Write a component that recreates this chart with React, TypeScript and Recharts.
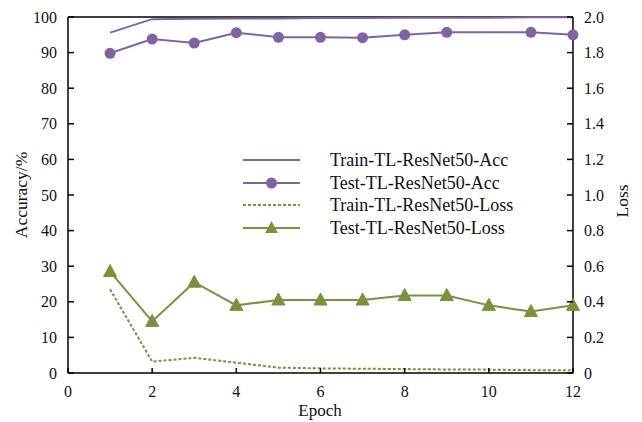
import React from 'react';
import { LineChart, Line, XAxis, YAxis, Legend, ReferenceLine, Label } from 'recharts';

const epochs = [1, 2, 3, 4, 5, 6, 7, 8, 9, 10, 11, 12];
const trainAcc = [95.6, 99.4, 99.5, 99.6, 99.6, 99.7, 99.7, 99.8, 99.8, 99.8, 99.9, 99.9];
const testAcc: (number | null)[] = [89.8, 93.8, 92.7, 95.6, 94.3, 94.3, 94.2, 95.0, 95.7, null, 95.7, 95.0];
const trainLoss = [0.47, 0.064, 0.085, 0.058, 0.03, 0.026, 0.024, 0.022, 0.02, 0.019, 0.016, 0.015];
const testLoss = [0.57, 0.29, 0.51, 0.38, 0.41, 0.41, 0.41, 0.435, 0.435, 0.38, 0.345, 0.38];

const xTicks = [0, 2, 4, 6, 8, 10, 12];
const accTicks = [0, 10, 20, 30, 40, 50, 60, 70, 80, 90, 100];
const lossTicks = [0, 0.2, 0.4, 0.6, 0.8, 1.0, 1.2, 1.4, 1.6, 1.8, 2.0];

const seriesNames = [
  'Train-TL-ResNet50-Acc',
  'Test-TL-ResNet50-Acc',
  'Train-TL-ResNet50-Loss',
  'Test-TL-ResNet50-Loss',
];

const PURPLE = '#8064A2';
const GREEN = '#77933C';
const FONT = '"Liberation Serif", "Times New Roman", serif';

const data = epochs.map((e, i) => ({
  epoch: e,
  trainAcc: trainAcc[i],
  testAcc: testAcc[i],
  trainLoss: trainLoss[i],
  testLoss: testLoss[i],
}));

const fmtLoss = (v: number) => (v === 0 ? '0' : v.toFixed(1));

const LeftTick = (props: any) => {
  const { x, y, payload } = props;
  return (
    <g>
      <line x1={x} x2={x + 6} y1={y} y2={y} stroke="#000" strokeWidth={1.5} />
      <text x={x - 11} y={y} dy={5.5} textAnchor="end" fontSize={16} fontFamily={FONT} fill="#111">
        {payload.value}
      </text>
    </g>
  );
};

const RightTick = (props: any) => {
  const { x, y, payload } = props;
  return (
    <g>
      <line x1={x} x2={x - 6} y1={y} y2={y} stroke="#000" strokeWidth={1.5} />
      <text x={x + 11} y={y} dy={5.5} textAnchor="start" fontSize={16} fontFamily={FONT} fill="#111">
        {fmtLoss(payload.value)}
      </text>
    </g>
  );
};

const BottomTick = (props: any) => {
  const { x, y, payload } = props;
  return (
    <g>
      <line x1={x} x2={x} y1={y} y2={y - 5} stroke="#000" strokeWidth={1.5} />
      <text x={x} y={y} dy={23.5} textAnchor="middle" fontSize={16} fontFamily={FONT} fill="#111">
        {payload.value}
      </text>
    </g>
  );
};

const Triangle = (props: any) => {
  const { cx, cy, index } = props;
  if (cx == null || cy == null) return <g key={`t-${index}`} />;
  return (
    <polygon
      key={`t-${index}`}
      points={`${cx},${cy - 7} ${cx - 6.5},${cy + 5} ${cx + 6.5},${cy + 5}`}
      fill={GREEN}
      stroke={GREEN}
    />
  );
};

const legendStyles = [
  { color: PURPLE, dash: undefined, marker: 'none' },
  { color: PURPLE, dash: undefined, marker: 'circle' },
  { color: GREEN, dash: '3 2', marker: 'none' },
  { color: GREEN, dash: undefined, marker: 'triangle' },
];

const renderLegend = () => (
  <div style={{ fontFamily: FONT, fontSize: 18, color: '#111' }}>
    {seriesNames.map((name, i) => {
      const s = legendStyles[i];
      return (
        <div key={name} style={{ display: 'flex', alignItems: 'center', height: 22.5 }}>
          <svg width={57} height={22} style={{ display: 'block' }}>
            <line x1={0} x2={57} y1={11} y2={11} stroke={s.color} strokeWidth={2} strokeDasharray={s.dash} />
            {s.marker === 'circle' && <circle cx={28.5} cy={11} r={5.5} fill={s.color} />}
            {s.marker === 'triangle' && (
              <polygon points={`28.5,4 22,16 35,16`} fill={s.color} />
            )}
          </svg>
          <span style={{ marginLeft: 30, whiteSpace: 'nowrap', lineHeight: '22px' }}>{name}</span>
        </div>
      );
    })}
  </div>
);

export default function App() {
  return (
    <div style={{ marginLeft: -8, marginTop: -8, width: 642, height: 422, background: '#fff' }}>
      <LineChart
        width={642}
        height={422}
        data={data}
        margin={{ top: 17, right: 0, bottom: 0, left: 0 }}
      >
        <XAxis
          dataKey="epoch"
          type="number"
          domain={[0, 12]}
          ticks={xTicks}
          interval={0}
          height={49}
          tickSize={0}
          tickMargin={0}
          tickLine={false}
          axisLine={{ stroke: '#000', strokeWidth: 1.5 }}
          tick={<BottomTick />}
        >
          <Label
            content={() => (
              <text x={320} y={416} textAnchor="middle" fontSize={17} fontFamily={FONT} fill="#111">
                Epoch
              </text>
            )}
          />
        </XAxis>
        <YAxis
          yAxisId="left"
          orientation="left"
          domain={[0, 100]}
          ticks={accTicks}
          interval={0}
          width={68}
          tickSize={0}
          tickMargin={0}
          tickLine={false}
          axisLine={{ stroke: '#000', strokeWidth: 1.5 }}
          tick={<LeftTick />}
        >
          <Label
            content={() => (
              <text
                x={23}
                y={195}
                transform="rotate(-90 23 195)"
                textAnchor="middle"
                dominantBaseline="middle"
                fontSize={17.5}
                fontFamily={FONT}
                fill="#111"
              >
                Accuracy/%
              </text>
            )}
          />
        </YAxis>
        <YAxis
          yAxisId="right"
          orientation="right"
          domain={[0, 2]}
          ticks={lossTicks}
          interval={0}
          width={69}
          tickSize={0}
          tickMargin={0}
          tickLine={false}
          axisLine={{ stroke: '#000', strokeWidth: 1.5 }}
          tick={<RightTick />}
        >
          <Label
            content={() => (
              <text
                x={624}
                y={201}
                transform="rotate(-90 624 201)"
                textAnchor="middle"
                dominantBaseline="middle"
                fontSize={17.5}
                fontFamily={FONT}
                fill="#111"
              >
                Loss
              </text>
            )}
          />
        </YAxis>
        <ReferenceLine yAxisId="left" y={100} stroke="#000" strokeWidth={1.5} ifOverflow="visible" />
        <Legend
          layout="vertical"
          align="center"
          verticalAlign="middle"
          content={renderLegend}
          wrapperStyle={{ position: 'absolute', left: 243, top: 149, width: 340, height: 92 }}
        />
        <Line
          yAxisId="left"
          dataKey="trainAcc"
          name={seriesNames[0]}
          stroke={PURPLE}
          strokeWidth={2}
          dot={false}
          type="linear"
          isAnimationActive={false}
        />
        <Line
          yAxisId="left"
          dataKey="testAcc"
          name={seriesNames[1]}
          stroke={PURPLE}
          strokeWidth={2}
          dot={{ r: 5.5, fill: PURPLE, stroke: PURPLE, strokeWidth: 0 }}
          connectNulls
          type="linear"
          isAnimationActive={false}
        />
        <Line
          yAxisId="right"
          dataKey="trainLoss"
          name={seriesNames[2]}
          stroke={GREEN}
          strokeWidth={2}
          strokeDasharray="3 2"
          dot={false}
          type="linear"
          isAnimationActive={false}
        />
        <Line
          yAxisId="right"
          dataKey="testLoss"
          name={seriesNames[3]}
          stroke={GREEN}
          strokeWidth={2}
          dot={<Triangle />}
          type="linear"
          isAnimationActive={false}
        />
      </LineChart>
    </div>
  );
}
